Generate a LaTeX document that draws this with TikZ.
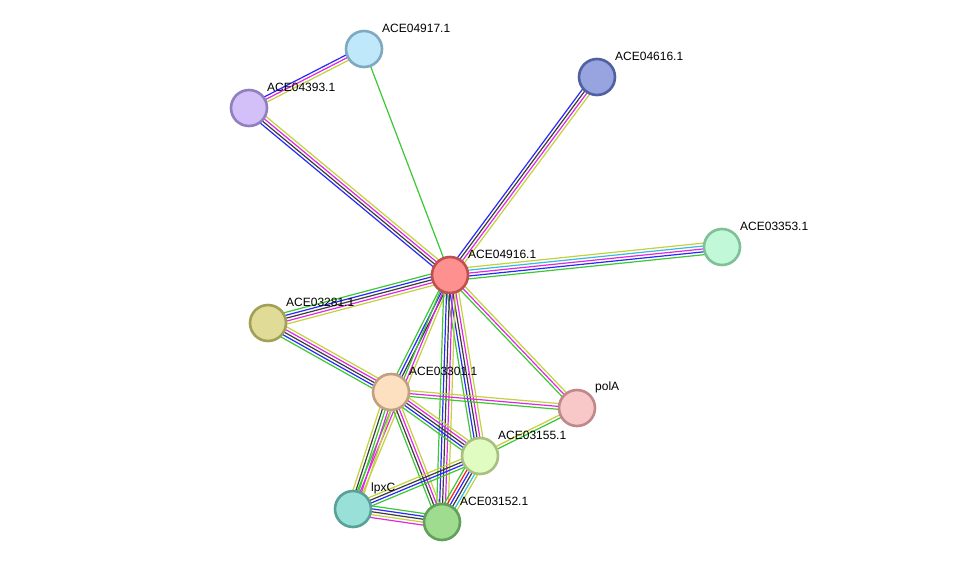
\documentclass[tikz,border=0pt]{standalone}
\usepackage{fontspec}
\setmainfont{Liberation Sans}
\usetikzlibrary{calc}
\definecolor{cG}{RGB}{60,200,50}
\definecolor{cB}{RGB}{40,40,250}
\definecolor{cK}{RGB}{60,60,60}
\definecolor{cM}{RGB}{225,40,225}
\definecolor{cY}{RGB}{195,210,60}
\definecolor{cC}{RGB}{50,190,225}
\definecolor{cR}{RGB}{250,30,30}
\tikzset{
  prot/.style={circle, minimum size=36pt, inner sep=0pt, line width=2.6pt},
  lab/.style={anchor=west, inner sep=0pt, font=\fontsize{12}{14}\selectfont},
  strand/.style={line width=1.2pt}
}
\newcommand{\bund}[3]{%
  \foreach \cc [count=\ii] in {#3} {\xdef\nn{\ii}}%
  \foreach \cc [count=\ii] in {#3} {%
    \pgfmathsetmacro{\off}{(\ii-(\nn+1)/2)*2.9}%
    \draw[strand,\cc] ($(#1.center)!\off pt!90:(#2.center)$) -- ($(#2.center)!\off pt!-90:(#1.center)$);
  }%
}
\begin{document}
\begin{tikzpicture}[x=1pt,y=-1pt]
\useasboundingbox (0,0) rectangle (975,568);
\fill[white] (0,0) rectangle (975,568);
% node coordinates (drawn later)
\coordinate (n04917) at (364,49);
\coordinate (n04393) at (249,108);
\coordinate (n04616) at (597,77);
\coordinate (n03353) at (722,247);
\coordinate (n04916) at (450,275);
\coordinate (n03281) at (268,323);
\coordinate (n03301) at (391,392);
\coordinate (polA) at (577,408);
\coordinate (n03155) at (480,456);
\coordinate (lpxC) at (353,509);
\coordinate (n03152) at (442,522);
% edges
\bund{n04917}{n04393}{cB,cM,cY}
\bund{n04917}{n04916}{cG}
\bund{n04393}{n04916}{cB,cK,cM,cY}
\bund{n04616}{n04916}{cB,cK,cM,cY}
\bund{n03353}{n04916}{cY,cC,cM,cB,cG}
\bund{n03281}{n04916}{cY,cM,cK,cB,cG}
\bund{n03281}{n03301}{cG,cB,cK,cM,cY}
\bund{n04916}{n03301}{cG,cB,cK}
\bund{n04916}{lpxC}{cG,cM,cY}
\bund{n04916}{polA}{cG,cM,cY}
\bund{n04916}{n03155}{cG,cB,cK,cM,cY}
\bund{n04916}{n03152}{cG,cB,cK,cM,cY}
\bund{n03301}{polA}{cG,cM,cY}
\bund{n03301}{n03155}{cG,cB,cK,cM,cY}
\bund{n03301}{n03152}{cG,cK,cM,cY}
\bund{n03301}{lpxC}{cY,cK,cG,cM,cY}
\bund{n03155}{polA}{cG,cY}
\bund{n03155}{lpxC}{cY,cK,cB,cG}
\bund{n03155}{n03152}{cG,cR,cB,cK,cC,cY}
\bund{lpxC}{n03152}{cM,cY,cK,cB,cG}
% nodes
\node[prot, fill={rgb,255:red,192;green,232;blue,251}, draw={rgb,255:red,128;green,168;blue,192}] (a04917) at (n04917) {};
\node[prot, fill={rgb,255:red,212;green,192;blue,248}, draw={rgb,255:red,144;green,128;blue,192}] (a04393) at (n04393) {};
\node[prot, fill={rgb,255:red,152;green,164;blue,224}, draw={rgb,255:red,80;green,96;blue,160}] (a04616) at (n04616) {};
\node[prot, fill={rgb,255:red,192;green,248;blue,216}, draw={rgb,255:red,128;green,192;blue,152}] (a03353) at (n03353) {};
\node[prot, fill={rgb,255:red,255;green,144;blue,144}, draw={rgb,255:red,192;green,80;blue,80}] (a04916) at (n04916) {};
\node[prot, fill={rgb,255:red,224;green,220;blue,152}, draw={rgb,255:red,160;green,160;blue,88}] (a03281) at (n03281) {};
\node[prot, fill={rgb,255:red,253;green,224;blue,192}, draw={rgb,255:red,192;green,160;blue,128}] (a03301) at (n03301) {};
\node[prot, fill={rgb,255:red,248;green,200;blue,200}, draw={rgb,255:red,192;green,136;blue,136}] (apolA) at (polA) {};
\node[prot, fill={rgb,255:red,224;green,252;blue,192}, draw={rgb,255:red,168;green,192;blue,128}] (a03155) at (n03155) {};
\node[prot, fill={rgb,255:red,152;green,224;blue,216}, draw={rgb,255:red,88;green,160;blue,152}] (alpxC) at (lpxC) {};
\node[prot, fill={rgb,255:red,160;green,220;blue,144}, draw={rgb,255:red,96;green,160;blue,88}] (a03152) at (n03152) {};
% labels
\node[lab] (l04917) at ($(n04917)+(18,-21)$) {ACE04917.1};
\node[lab] (l04393) at ($(n04393)+(18,-21)$) {ACE04393.1};
\node[lab] (l04616) at ($(n04616)+(18,-21)$) {ACE04616.1};
\node[lab] (l03353) at ($(n03353)+(18,-21)$) {ACE03353.1};
\node[lab] (l04916) at ($(n04916)+(18,-21)$) {ACE04916.1};
\node[lab] (l03281) at ($(n03281)+(18,-21)$) {ACE03281.1};
\node[lab] (l03301) at ($(n03301)+(18,-21)$) {ACE03301.1};
\node[lab] (lpolA) at ($(polA)+(18,-21)$) {polA};
\node[lab] (l03155) at ($(n03155)+(18,-21)$) {ACE03155.1};
\node[lab] (llpxC) at ($(lpxC)+(18,-21)$) {lpxC};
\node[lab] (l03152) at ($(n03152)+(18,-21)$) {ACE03152.1};
\end{tikzpicture}
\end{document}
